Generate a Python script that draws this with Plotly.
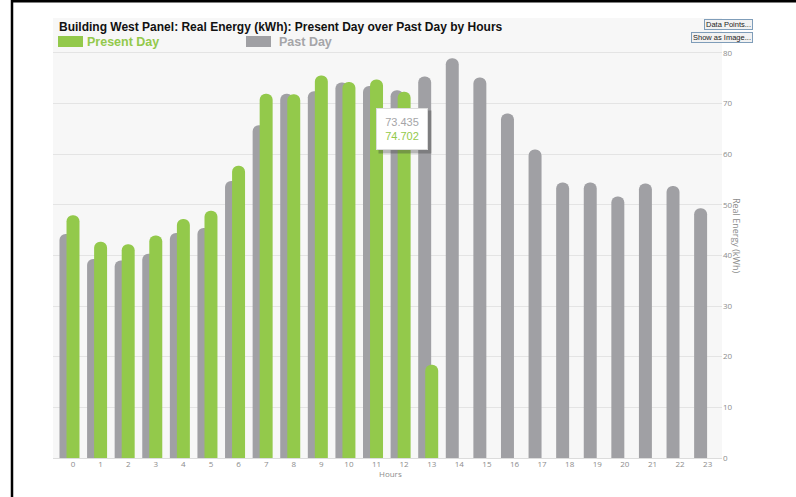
import plotly.graph_objects as go

# ---------------- data ----------------
hours = list(range(24))
hour_labels = [str(h) for h in hours]
present_hours = list(range(14))
present_day = [47.9, 42.7, 42.2, 43.9, 47.2, 48.8, 57.7, 71.9, 71.8, 75.5, 74.2, 74.702, 72.3, 18.4]
past_day = [44.2, 39.3, 39.0, 40.3, 44.4, 45.4, 54.7, 65.7, 71.9, 72.4, 74.1, 73.435,
            72.6, 75.3, 78.9, 75.1, 68.0, 60.9, 54.4, 54.4, 51.6, 54.2, 53.7, 49.3]
y_ticks = [0, 10, 20, 30, 40, 50, 60, 70, 80]
series_names = ["Present Day", "Past Day"]
tooltip_hour = 11

# ---------------- style ----------------
W, H = 796, 497
L, R, T, B = 53, 74, 18, 39
GREEN = "#93c94b"
GRAY = "#a0a0a4"
PW = W - L - R
PH = H - T - B


def px(x):
    return (x - L) / PW


def py(y):
    return (H - B - y) / PH


fig = go.Figure()
fig.add_trace(go.Bar(
    x=hours, y=past_day, name=series_names[1],
    marker=dict(color=GRAY, cornerradius=6, line=dict(width=0)),
    width=0.47, offset=-0.49, hoverinfo="skip", showlegend=False,
))
fig.add_trace(go.Bar(
    x=present_hours, y=present_day, name=series_names[0],
    marker=dict(color=GREEN, cornerradius=6, line=dict(width=0)),
    width=0.47, offset=-0.235, hoverinfo="skip", showlegend=False,
))

tick_font = dict(family="Open Sans, DejaVu Sans, sans-serif", size=8, color="#8c8c8c")

fig.update_layout(
    width=W, height=H,
    margin=dict(l=L, r=R, t=T, b=B, pad=0),
    paper_bgcolor="white",
    plot_bgcolor="#f7f7f7",
    barmode="overlay",
    showlegend=False,
    hovermode=False,
    xaxis=dict(
        range=[-0.725, 23.52],
        tickmode="array", tickvals=hours, ticktext=hour_labels,
        tickfont=tick_font, showgrid=False, zeroline=False,
        showline=False, ticks="", fixedrange=True,
    ),
    yaxis=dict(
        side="right", range=[0, 86.85],
        tickmode="array", tickvals=y_ticks, ticktext=[str(v) for v in y_ticks],
        tickfont=tick_font, showgrid=True, gridcolor="#e4e4e4", gridwidth=1,
        zeroline=True, zerolinecolor="#dcdcdc", zerolinewidth=1,
        showline=False, ticks="", fixedrange=True,
    ),
)

ann = []
# title
ann.append(dict(
    text="<b>Building West Panel: Real Energy (kWh): Present Day over Past Day by Hours</b>",
    xref="paper", yref="paper", x=px(57), y=py(27), xanchor="left", yanchor="middle",
    showarrow=False, font=dict(family="Liberation Sans, Arial, sans-serif", size=12, color="#111111"),
))
# legend texts
ann.append(dict(
    text="<b>" + series_names[0] + "</b>", xref="paper", yref="paper",
    x=px(85), y=py(41.5), xanchor="left", yanchor="middle", showarrow=False,
    font=dict(family="Liberation Sans, Arial, sans-serif", size=12.5, color=GREEN),
))
ann.append(dict(
    text="<b>" + series_names[1] + "</b>", xref="paper", yref="paper",
    x=px(277), y=py(41.5), xanchor="left", yanchor="middle", showarrow=False,
    font=dict(family="Liberation Sans, Arial, sans-serif", size=12.5, color="#a5a5a8"),
))
# buttons
btn_font = dict(family="Liberation Sans, Arial, sans-serif", size=7.5, color="#222222")
ann.append(dict(
    text="Data Points...", xref="paper", yref="paper", x=px(753), y=py(24),
    xanchor="right", yanchor="middle", showarrow=False, font=btn_font,
    bgcolor="#f2f2f2", bordercolor="#7f9db9", borderwidth=1, borderpad=0,
    width=47, height=9,
))
ann.append(dict(
    text="Show as Image...", xref="paper", yref="paper", x=px(753), y=py(38),
    xanchor="right", yanchor="middle", showarrow=False, font=btn_font,
    bgcolor="#f2f2f2", bordercolor="#7f9db9", borderwidth=1, borderpad=0,
    width=60, height=9,
))
# y-axis title
ann.append(dict(
    text="Real Energy (kWh)", xref="paper", yref="paper", x=px(737), y=py(235),
    xanchor="center", yanchor="middle", textangle=90, showarrow=False,
    font=dict(family="Open Sans, DejaVu Sans, sans-serif", size=9, color="#8c8c8c"),
))
# x-axis title
ann.append(dict(
    text="Hours", xref="paper", yref="paper", x=px(390), y=py(473),
    xanchor="center", yanchor="middle", showarrow=False,
    font=dict(family="Open Sans, DejaVu Sans, sans-serif", size=8, color="#8c8c8c"),
))
# tooltip shadow + box
tip_text = ("<span style='color:#a5a5a8'>%.3f</span><br><span style='color:%s'>%.3f</span>"
            % (past_day[tooltip_hour], GREEN, present_day[tooltip_hour]))
ann.append(dict(
    text=" ", xref="paper", yref="paper", x=px(405), y=py(132),
    xanchor="center", yanchor="middle", showarrow=False,
    bgcolor="rgba(60,60,60,0.35)", width=48, height=38, borderpad=2,
))
ann.append(dict(
    text=tip_text, xref="paper", yref="paper", x=px(402), y=py(128.5),
    xanchor="center", yanchor="middle", showarrow=False,
    font=dict(family="Liberation Sans, Arial, sans-serif", size=11),
    bgcolor="white", bordercolor="#dddddd", borderwidth=1, width=46, height=36, borderpad=2,
))
fig.update_layout(annotations=ann)

shapes = [
    # legend swatches
    dict(type="rect", xref="paper", yref="paper", x0=px(58), x1=px(83), y0=py(47), y1=py(36),
         fillcolor=GREEN, line=dict(width=0)),
    dict(type="rect", xref="paper", yref="paper", x0=px(246), x1=px(271), y0=py(47), y1=py(36),
         fillcolor=GRAY, line=dict(width=0)),
    # black frame
    dict(type="line", xref="paper", yref="paper", x0=px(12), x1=px(12), y0=py(0), y1=py(H),
         line=dict(color="black", width=2.5)),
    dict(type="line", xref="paper", yref="paper", x0=px(11), x1=px(W), y0=py(1), y1=py(1),
         line=dict(color="black", width=3)),
]
fig.update_layout(shapes=shapes)

fig.write_html(
    "out.html",
    config={"displayModeBar": False, "staticPlot": True},
    post_script="document.body.style.margin='0px';document.body.style.overflow='hidden';",
)
